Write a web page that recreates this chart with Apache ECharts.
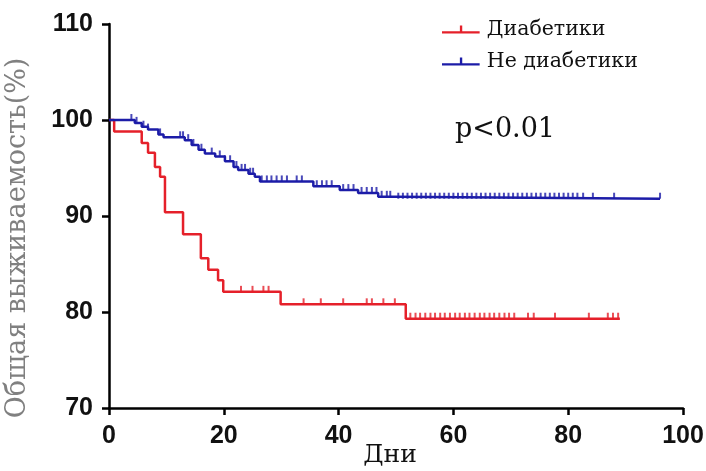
<!DOCTYPE html>
<html>
<head>
<meta charset="utf-8">
<script src="https://cdn.jsdelivr.net/npm/echarts@6/dist/echarts.min.js"></script>
<style>html,body{margin:0;padding:0;background:#fff}#c{width:706px;height:471px}</style>
</head>
<body>
<div id="c"></div>
<script>
// Kaplan-Meier step data (time in days, survival in %)
const redTimes = [0, 0.9, 5.7, 6.8, 8.0, 8.9, 9.75, 12.9, 16.0, 17.3, 19.0, 19.9, 29.9, 51.7, 89];
const redSurv  = [100, 98.8, 97.6, 96.6, 95.1, 94.1, 90.4, 88.1, 85.6, 84.4, 83.3, 82.1, 80.8, 79.3, 79.3];
const redCensor = [23, 25, 26.9, 27.8, 33.9, 36.9, 40.8, 44.9, 45.8, 47.8, 49.8,
  52.5, 53.4, 54.2, 55.1, 56, 56.8, 57.7, 58.5, 59.4, 60.3, 61.1, 62, 62.8, 63.7, 64.6, 65.4,
  66.3, 67.1, 68, 68.9, 69.7, 70.6, 73, 74, 77.7, 83.6, 86.9, 87.8, 88.7];

const blueTimes = [0, 4.5, 5.7, 6.8, 8.6, 9.5, 13.2, 14.4, 15.6, 16.7, 18.5, 20.2, 21.7, 22.5, 24.3, 25.4, 26.3, 35.6, 40.2, 43.4, 46.9, 50.1, 96];
const blueSurv  = [100, 99.7, 99.3, 99.0, 98.5, 98.2, 97.9, 97.4, 96.9, 96.5, 96.2, 95.7, 95.1, 94.8, 94.4, 94.1, 93.6, 93.1, 92.7, 92.4, 92.0, 91.8, 91.8];
const blueCensor = [3.9, 4.8, 6.0, 6.8, 8.9, 12.4, 12.9, 13.8, 14.7, 16.1, 17.9, 19.3, 20.2, 21.1, 22.2, 23.1,
  23.7, 24.6, 25.1, 26.6, 27.5, 28.3, 29.2, 30.1, 31.0, 32.7, 33.6, 36.2, 37.1, 37.9, 38.8, 40.8, 41.7, 42.6,
  44.0, 44.9, 45.8, 46.6, 47.5, 48.4, 49.0, 50.4, 51.2, 52.0, 52.8, 53.6, 54.4, 55.2, 56.0, 56.8, 57.6, 58.4,
  59.2, 60.0, 60.8, 61.6, 62.4, 63.2, 64.0, 64.8, 65.6, 66.4, 67.2, 68.0, 68.8, 69.6, 70.4, 71.2, 72.0, 72.8,
  73.6, 74.4, 75.2, 76.0, 76.8, 77.6, 78.4, 79.2, 80.0, 80.8, 81.6, 82.6, 84.3, 88.0, 96];

const xTicks = [0, 20, 40, 60, 80, 100];
const yTicks = [70, 80, 90, 100, 110];

const seriesNames = ['Диабетики', 'Не диабетики'];
const RED = '#e5202a', BLUE = '#1c1ca8';
const SERIF = 'DejaVu Serif';

function survAt(times, surv, t) {
  let v = surv[0];
  for (let i = 0; i < times.length; i++) { if (times[i] <= t) v = surv[i]; }
  return v;
}
const zip = (a, b) => a.map((t, i) => [t, b[i]]);
const censorPts = (c, times, surv) => c.map(t => [t, survAt(times, surv, t)]);

const tickSymbol = 'rect';
const legendIcon = 'path://M0,9h40v2.5h-40z M19,3h2.5v7h-2.5z';

const chart = echarts.init(document.getElementById('c'), null, {renderer: 'canvas'});
chart.setOption({
  animation: false,
  backgroundColor: '#fff',
  grid: {left: 109, right: 23, top: 24, bottom: 63, containLabel: false, outerBoundsMode: 'none'},
  legend: {
    orient: 'vertical', left: 437, top: 14, itemGap: 11,
    itemWidth: 42, itemHeight: 8,
    data: [{name: seriesNames[0], icon: legendIcon}, {name: seriesNames[1], icon: legendIcon}],
    textStyle: {fontFamily: SERIF, fontSize: 20.5, color: '#111'}
  },
  xAxis: {
    type: 'value', min: 0, max: 100, interval: 20,
    name: 'Дни', nameLocation: 'middle', nameGap: 35, nameMoveOverlap: false,
    nameTextStyle: {fontFamily: SERIF, fontSize: 25, color: '#111', padding: [0, 12, 0, 0]},
    axisLine: {show: true, lineStyle: {color: '#000', width: 2.5}},
    axisTick: {show: true, length: 7, lineStyle: {color: '#000', width: 2.5}},
    axisLabel: {margin: 16, fontFamily: 'Liberation Sans', fontWeight: 'bold', fontSize: 25, color: '#111',
      formatter: v => xTicks.includes(v) ? String(v) : ''},
    splitLine: {show: false}
  },
  yAxis: {
    type: 'value', min: 70, max: 110, interval: 10,
    name: 'Общая выживаемость(%)', nameLocation: 'middle', nameGap: 78, nameRotate: 90, nameMoveOverlap: false,
    nameTextStyle: {fontFamily: SERIF, fontSize: 27, color: '#808080', padding: [0, 44, 0, 0]},
    axisLine: {show: true, lineStyle: {color: '#000', width: 2.5}},
    axisTick: {show: true, length: 7, lineStyle: {color: '#000', width: 2.5}},
    axisLabel: {margin: 16, fontFamily: 'Liberation Sans', fontWeight: 'bold', fontSize: 25, color: '#111',
      formatter: v => yTicks.includes(v) ? String(v) : ''},
    splitLine: {show: false}
  },
  graphic: [{
    type: 'text', left: 455, top: 116,
    style: {text: 'p<0.01', fontFamily: SERIF, fontSize: 27, fill: '#111'}
  }],
  series: [
    {name: seriesNames[0], type: 'line', step: 'end', data: zip(redTimes, redSurv),
      showSymbol: false, symbol: 'none', color: RED, lineStyle: {color: RED, width: 2.5}, z: 3},
    {name: seriesNames[1], type: 'line', step: 'end', data: zip(blueTimes, blueSurv),
      showSymbol: false, symbol: 'none', color: BLUE, lineStyle: {color: BLUE, width: 2.5}, z: 3},
    {name: seriesNames[0], type: 'scatter', data: censorPts(redCensor, redTimes, redSurv),
      symbol: tickSymbol, symbolSize: [2, 6], symbolOffset: [0, -3], itemStyle: {color: RED}, z: 4, silent: true},
    {name: seriesNames[1], type: 'scatter', data: censorPts(blueCensor, blueTimes, blueSurv),
      symbol: tickSymbol, symbolSize: [2, 6], symbolOffset: [0, -3], itemStyle: {color: BLUE}, z: 4, silent: true}
  ]
});
</script>
</body>
</html>
